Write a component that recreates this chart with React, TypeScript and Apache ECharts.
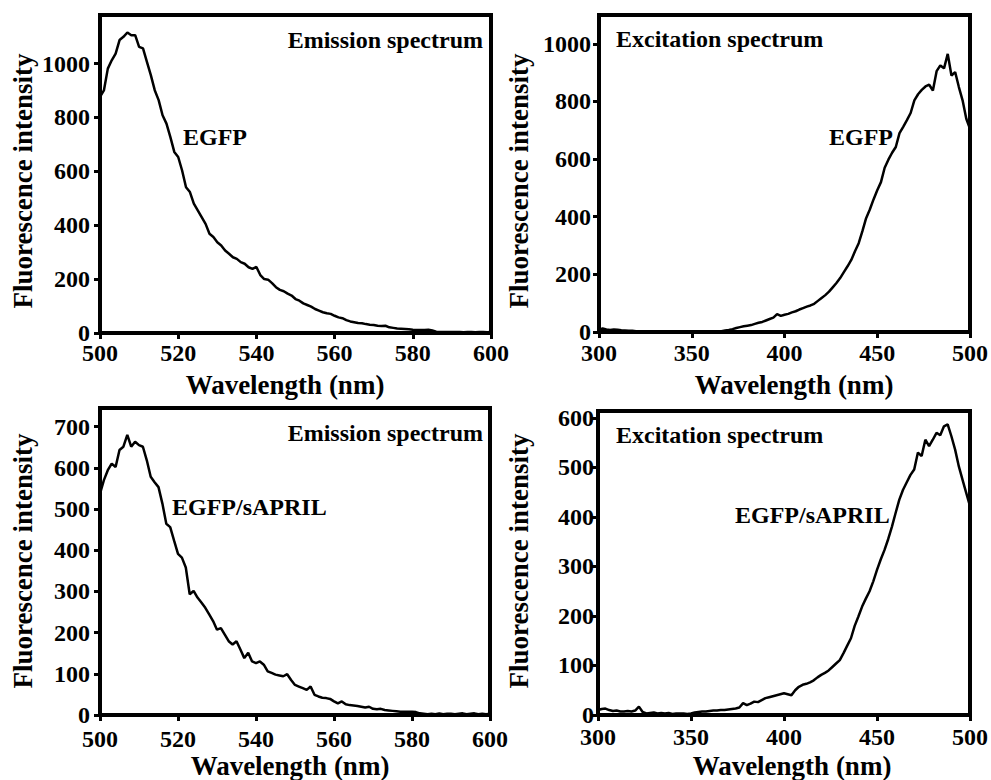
import React, { useEffect, useRef } from "react";
import * as echarts from "echarts";

// Emission spectra: 500..600 nm, 1 nm step
const emissionStart = 500;
const emissionStep = 1;
// Excitation spectra: 300..500 nm, 2 nm step
const excitationStart = 300;
const excitationStep = 2;

const emissionEGFP = [
  876, 900, 981, 1012, 1037, 1087, 1099, 1115, 1105, 1105,
  1062, 1056, 1006, 957, 901, 864, 808, 777, 727, 672,
  653, 603, 541, 523, 480, 455, 430, 405, 368, 356,
  337, 325, 306, 294, 281, 275, 263, 257, 244, 238,
  245, 215, 200, 198, 185, 170, 160, 155, 146, 139,
  126, 120, 110, 104, 98, 89, 83, 77, 73, 71,
  64, 58, 55, 48, 43, 40, 37, 36, 33, 31,
  30, 27, 26, 27, 21, 19, 17, 16, 15, 14,
  12, 11, 11, 11, 12, 9, 5, 4, 4, 4,
  4, 4, 4, 3, 4, 4, 3, 4, 4, 3, 4,
];

const excitationEGFP = [
  8, 12, 9, 7, 9, 8, 6, 5, 4, 4,
  3, 3, 2, 2, 2, 1, 2, 1, 1, 1,
  1, 1, 1, 1, 2, 1, 1, 1, 2, 1,
  2, 2, 3, 3, 5, 7, 10, 14, 17, 20,
  22, 24, 28, 32, 35, 40, 45, 50, 62, 56,
  60, 63, 68, 72, 78, 83, 88, 92, 98, 108,
  118, 128, 140, 155, 170, 187, 208, 228, 250, 280,
  308, 350, 395, 425, 460, 492, 520, 570, 598, 622,
  642, 690, 712, 735, 760, 804, 825, 840, 852, 858,
  838, 905, 925, 915, 965, 890, 902, 850, 804, 740,
  705,
];

const emissionAPRIL = [
  537, 570, 594, 610, 602, 643, 651, 680, 651, 663,
  655, 651, 618, 578, 565, 553, 513, 464, 456, 423,
  391, 382, 358, 293, 301, 285, 273, 260, 244, 228,
  207, 211, 195, 179, 171, 179, 159, 138, 151, 130,
  126, 130, 122, 106, 102, 98, 96, 94, 99, 85,
  73, 69, 65, 61, 69, 49, 45, 42, 41, 39,
  33, 28, 33, 26, 24, 23, 22, 20, 18, 20,
  15, 14, 15, 12, 11, 10, 9, 8, 8, 8,
  8, 7, 4, 3, 2, 3, 2, 4, 2, 3,
  3, 2, 3, 4, 2, 3, 4, 2, 3, 2, 3,
];

const excitationAPRIL = [
  10, 12, 13, 10, 8, 9, 7, 7, 8, 7,
  9, 17, 6, 3, 4, 5, 3, 4, 3, 4,
  2, 3, 3, 3, 2, 3, 5, 6, 7, 7,
  8, 9, 9, 10, 10, 11, 12, 13, 15, 24,
  20, 23, 27, 26, 30, 34, 36, 38, 40, 42,
  44, 42, 40, 50, 57, 61, 63, 66, 70, 76,
  81, 85, 90, 97, 104, 111, 125, 140, 155, 180,
  199, 219, 235, 250, 270, 293, 314, 333, 355, 380,
  408, 435, 455, 470, 485, 496, 530, 523, 556, 543,
  556, 570, 565, 583, 587, 563, 536, 502, 475, 448,
  422,
];

const emissionTicksEGFP = [0, 200, 400, 600, 800, 1000];
const excitationTicksEGFP = [0, 200, 400, 600, 800, 1000];
const emissionTicksAPRIL = [0, 100, 200, 300, 400, 500, 600, 700];
const excitationTicksAPRIL = [0, 100, 200, 300, 400, 500, 600];

const FONT = '"Liberation Serif", "Times New Roman", serif';

function pairs(start: number, step: number, ys: number[]) {
  return ys.map((y, i) => [start + i * step, y]);
}

export default function App() {
  const ref = useRef<HTMLDivElement>(null);
  useEffect(() => {
    if (!ref.current) return;
    const chart = echarts.init(ref.current, undefined, { renderer: "svg" });

    const grids = [
      { left: 100, top: 15, width: 391, height: 318 },
      { left: 599, top: 15, width: 374, height: 317 },
      { left: 100, top: 408, width: 390, height: 307 },
      { left: 598, top: 411, width: 375, height: 304 },
    ];
    const xCfg = [
      { min: 500, max: 600, interval: 20, margin: 8 },
      { min: 300, max: 500, interval: 50, margin: 9 },
      { min: 500, max: 600, interval: 20, margin: 12 },
      { min: 300, max: 500, interval: 50, margin: 10 },
    ];
    const yCfg = [
      { max: 1180, ticks: emissionTicksEGFP, margin: 10 },
      { max: 1100, ticks: excitationTicksEGFP, margin: 8 },
      { max: 745, ticks: emissionTicksAPRIL, margin: 10 },
      { max: 614, ticks: excitationTicksAPRIL, margin: 4 },
    ];
    const seriesData = [
      pairs(emissionStart, emissionStep, emissionEGFP),
      pairs(excitationStart, excitationStep, excitationEGFP),
      pairs(emissionStart, emissionStep, emissionAPRIL),
      pairs(excitationStart, excitationStep, excitationAPRIL),
    ];

    const labelStyle = {
      color: "#000",
      fontFamily: FONT,
      fontWeight: "bold" as const,
      fontSize: 24,
      formatter: (v: number) => String(v),
    };

    const textEl = (
      text: string,
      x: number,
      y: number,
      size: number,
      align: string,
      rotation = 0
    ) => ({
      type: "text",
      x,
      y,
      rotation,
      z: 100,
      style: {
        text,
        fill: "#000",
        fontFamily: FONT,
        fontWeight: "bold",
        fontSize: size,
        align,
        verticalAlign: "middle",
      },
    });

    const option: any = {
      animation: false,
      backgroundColor: "#fff",
      grid: grids.map((g) => ({
        ...g,
        show: true,
        borderColor: "#000",
        borderWidth: 4,
        backgroundColor: "transparent",
      })),
      xAxis: xCfg.map((c, i) => ({
        type: "value",
        gridIndex: i,
        min: c.min,
        max: c.max,
        interval: c.interval,
        axisLine: { show: true, lineStyle: { color: "#000", width: 4 } },
        axisTick: { show: true, inside: false, length: 6, lineStyle: { color: "#000", width: 3 } },
        axisLabel: { ...labelStyle, margin: c.margin },
        splitLine: { show: false },
      })),
      yAxis: yCfg.map((c, i) => ({
        type: "value",
        gridIndex: i,
        min: 0,
        max: c.max,
        axisLine: { show: true, lineStyle: { color: "#000", width: 4 } },
        axisTick: {
          show: true,
          inside: false,
          length: 6,
          lineStyle: { color: "#000", width: 3 },
          customValues: c.ticks,
        },
        axisLabel: { ...labelStyle, margin: c.margin, customValues: c.ticks },
        splitLine: { show: false },
      })),
      series: seriesData.map((d, i) => ({
        type: "line",
        xAxisIndex: i,
        yAxisIndex: i,
        data: d,
        showSymbol: false,
        symbol: "none",
        lineStyle: { color: "#000", width: 2.5 },
        z: 5,
      })),
      graphic: [
        // axis titles
        textEl("Fluorescence intensity", 23, 181, 27, "center", Math.PI / 2),
        textEl("Fluorescence intensity", 519, 181, 27, "center", Math.PI / 2),
        textEl("Fluorescence intensity", 23, 561, 27, "center", Math.PI / 2),
        textEl("Fluorescence intensity", 519, 561, 27, "center", Math.PI / 2),
        textEl("Wavelength (nm)", 285, 385, 27, "center"),
        textEl("Wavelength (nm)", 794, 385, 27, "center"),
        textEl("Wavelength (nm)", 290, 766, 27, "center"),
        textEl("Wavelength (nm)", 792, 766, 27, "center"),
        // annotations
        textEl("Emission spectrum", 483, 40, 24, "right"),
        textEl("EGFP", 183, 137, 24, "left"),
        textEl("Excitation spectrum", 616, 39, 24, "left"),
        textEl("EGFP", 829, 137, 24, "left"),
        textEl("Emission spectrum", 483, 433, 24, "right"),
        textEl("EGFP/sAPRIL", 172, 507, 24, "left"),
        textEl("Excitation spectrum", 616, 435, 24, "left"),
        textEl("EGFP/sAPRIL", 735, 515, 24, "left"),
      ],
    };
    chart.setOption(option);
    return () => chart.dispose();
  }, []);
  return (
    <div
      ref={ref}
      style={{ position: "absolute", left: 0, top: 0, width: 991, height: 780 }}
    />
  );
}
